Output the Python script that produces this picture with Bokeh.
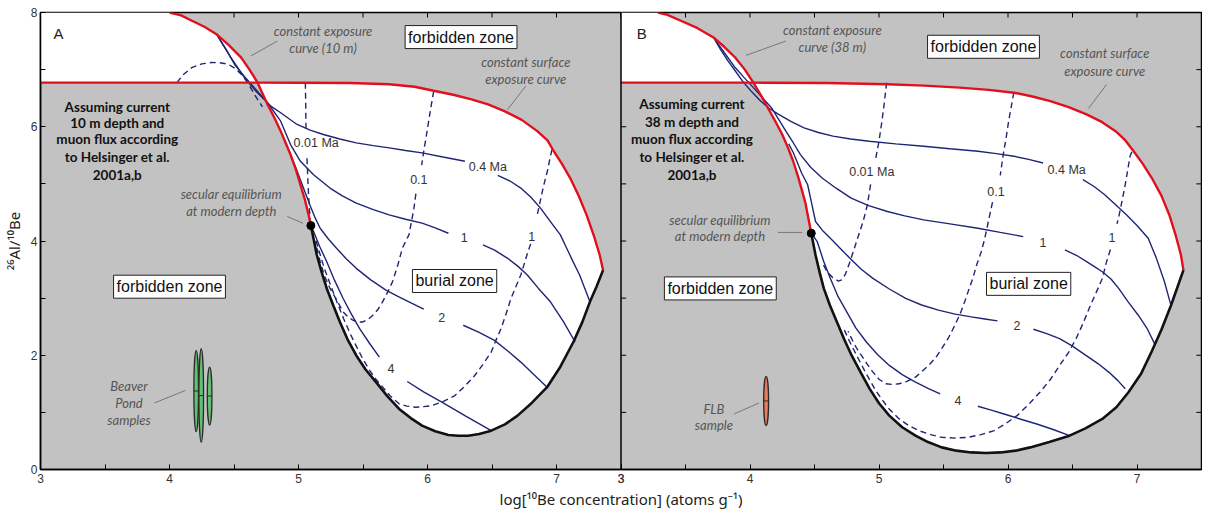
from bokeh.plotting import figure
from bokeh.models import Range1d, FixedTicker, Label, Span
from bokeh.embed import file_html
from bokeh.resources import INLINE

nan = float("nan")

# ---------------- axes ----------------
x_ticks = [3.0, 3.5, 4.0, 4.5, 5.0, 5.5, 6.0, 6.5, 7.0, 7.5]
x_tick_labels = ["3", "", "4", "", "5", "", "6", "", "7", ""]
y_ticks = [0, 1, 2, 3, 4, 5, 6, 7, 8]
y_tick_labels = ["0", "", "2", "", "4", "", "6", "", "8"]
x_title = "log[¹⁰Be concentration] (atoms g⁻¹)"
y_title = "²⁶Al/¹⁰Be"

# ================= PANEL A (10 m) =================
surfA_x = [3.0, 4.0, 4.683, 5.0, 5.4, 5.703, 5.9, 6.048, 6.2, 6.341, 6.47, 6.596, 6.73, 6.851, 6.93, 6.979, 7.04, 7.106, 7.17, 7.233, 7.29, 7.335, 7.361]
surfA_y = [6.772, 6.772, 6.772, 6.77, 6.765, 6.745, 6.70, 6.63, 6.56, 6.48, 6.39, 6.274, 6.12, 5.923, 5.76, 5.571, 5.36, 5.102, 4.80, 4.458, 4.09, 3.755, 3.49]
redA_x = [4.0, 4.09, 4.17, 4.27, 4.364, 4.46, 4.556, 4.62, 4.683, 4.76, 4.815, 4.862, 4.90, 4.938, 4.98, 5.015, 5.05, 5.078, 5.096]
redA_y = [8.0, 7.95, 7.86, 7.75, 7.62, 7.43, 7.21, 7.0, 6.772, 6.39, 6.15, 5.923, 5.72, 5.513, 5.25, 4.985, 4.72, 4.458, 4.27]
blackA_x = [5.096, 5.142, 5.18, 5.219, 5.27, 5.321, 5.38, 5.448, 5.52, 5.601, 5.69, 5.78, 5.87, 5.958, 6.06, 6.162, 6.24, 6.315, 6.40, 6.494, 6.60, 6.698, 6.81, 6.927, 7.03, 7.131, 7.20, 7.259, 7.31, 7.361]
blackA_y = [4.27, 3.755, 3.45, 3.17, 2.87, 2.583, 2.28, 1.997, 1.75, 1.529, 1.28, 1.06, 0.90, 0.768, 0.67, 0.603, 0.59, 0.592, 0.62, 0.68, 0.79, 0.943, 1.17, 1.441, 1.80, 2.232, 2.58, 2.935, 3.20, 3.49]

# burial isochrons (solid)
isoA_04_x = [4.364, 4.44, 4.505, 4.58, 4.658, 4.72, 4.785, 4.862, 4.989, 5.09, 5.193, 5.32, 5.448, 5.58, 5.703, 5.83, 5.958, 6.12, 6.29, nan, 6.545, 6.64, 6.723, 6.80, 6.876, 6.953, 7.03, 7.08, 7.13, 7.18, 7.259]
isoA_04_y = [7.62, 7.35, 7.09, 6.88, 6.685, 6.52, 6.36, 6.245, 6.04, 5.94, 5.864, 5.785, 5.718, 5.67, 5.63, 5.585, 5.542, 5.47, 5.396, nan, 5.15, 5.05, 4.927, 4.77, 4.575, 4.34, 4.107, 3.87, 3.63, 3.40, 2.935]
isoA_1_x = [4.364, 4.47, 4.581, 4.67, 4.76, 4.862, 4.938, 5.015, 5.117, 5.244, 5.34, 5.448, 5.58, 5.703, 5.83, 5.958, 6.06, 6.162, nan, 6.43, 6.52, 6.621, 6.70, 6.774, 6.86, 6.953, 7.055, 7.144]
isoA_1_y = [7.62, 7.23, 6.86, 6.62, 6.42, 6.098, 5.688, 5.395, 5.161, 4.927, 4.79, 4.663, 4.55, 4.458, 4.38, 4.312, 4.23, 4.136, nan, 3.931, 3.84, 3.697, 3.56, 3.404, 3.17, 2.935, 2.584, 2.232]
isoA_2_x = [4.938, 4.99, 5.04, 5.09, 5.13, 5.168, 5.23, 5.295, 5.37, 5.448, 5.56, 5.678, 5.77, 5.856, 5.971, nan, 6.277, 6.40, 6.519, 6.62, 6.723, 6.82, 6.927]
isoA_2_y = [5.513, 5.22, 4.92, 4.62, 4.40, 4.224, 4.04, 3.872, 3.69, 3.521, 3.32, 3.14, 3.03, 2.935, 2.806, nan, 2.525, 2.40, 2.261, 2.08, 1.88, 1.67, 1.441]
isoA_4_x = [5.096, 5.117, 5.165, 5.219, 5.28, 5.346, 5.41, 5.474, 5.55, 5.627, nan, 5.843, 5.97, 6.111, 6.30, 6.494]
isoA_4_y = [4.27, 4.165, 3.90, 3.638, 3.31, 2.994, 2.72, 2.466, 2.21, 1.968, nan, 1.541, 1.36, 1.178, 0.93, 0.68]

# dashed lines
dashA_0_x = [4.058, 4.10, 4.173, 4.25, 4.326, 4.39, 4.454, 4.51, 4.556, 4.61, 4.658, 4.72]
dashA_0_y = [6.772, 6.90, 7.036, 7.10, 7.124, 7.12, 7.095, 7.02, 6.919, 6.76, 6.567, 6.35]
dashA_001_x = [5.053, 5.056, 5.058, nan, 5.066, 5.072, 5.078, 5.085, 5.091]
dashA_001_y = [6.772, 6.4, 5.95, nan, 5.45, 5.1, 4.81, 4.55, 4.34]
dashA_01_x = [6.048, 6.028, 6.009, 5.99, 5.971, 5.955, nan, 5.91, 5.895, 5.876, 5.856, 5.83, 5.805, 5.77, 5.729, 5.69, 5.652, 5.615, 5.576, 5.54, 5.499, 5.46, 5.423, 5.385, 5.346, 5.30, 5.244, 5.20, 5.168, 5.13]
dashA_01_y = [6.62, 6.36, 6.099, 5.83, 5.571, 5.33, nan, 4.83, 4.575, 4.34, 4.107, 3.99, 3.872, 3.58, 3.287, 3.10, 2.935, 2.80, 2.70, 2.63, 2.583, 2.58, 2.613, 2.67, 2.76, 2.95, 3.17, 3.40, 3.638, 3.99]
dashA_1_x = [6.965, 6.953, 6.93, 6.902, 6.876, 6.851, nan, 6.80, 6.774, 6.75, 6.723, 6.685, 6.647, 6.61, 6.57, 6.53, 6.494, 6.43, 6.366, 6.29, 6.213, 6.12, 6.035, 5.97, 5.907, 5.84, 5.78, 5.71, 5.65, 5.60, 5.55, 5.50, 5.45, 5.40, 5.35, 5.30, 5.25, 5.20, 5.16, 5.13]
dashA_1_y = [5.60, 5.483, 5.23, 4.985, 4.72, 4.458, nan, 3.95, 3.78, 3.60, 3.404, 3.20, 2.994, 2.73, 2.466, 2.26, 2.056, 1.84, 1.646, 1.46, 1.295, 1.19, 1.119, 1.10, 1.09, 1.11, 1.15, 1.29, 1.45, 1.58, 1.74, 1.93, 2.15, 2.38, 2.64, 2.92, 3.22, 3.52, 3.82, 4.05]

linelabA_text = ["0.01 Ma", "0.1", "1", "0.4 Ma", "1", "2", "4"]
linelabA_x = [5.137, 5.933, 6.808, 6.468, 6.285, 6.111, 5.716]
linelabA_y = [5.718, 5.073, 4.078, 5.296, 4.06, 2.66, 1.763]

# Beaver Pond samples
beaver_be = [4.207, 4.246, 4.311]
beaver_be_err = [0.018, 0.018, 0.018]
beaver_ratio = [1.374, 1.294, 1.286]
beaver_ratio_err = [0.712, 0.82, 0.507]

# ================= PANEL B (38 m) =================
surfB_x = [3.0, 4.026, 4.6, 5.065, 5.35, 5.626, 5.85, 6.047, 6.19, 6.328, 6.47, 6.609, 6.73, 6.834, 6.91, 6.974, 7.045, 7.115, 7.19, 7.25, 7.30, 7.34, 7.36]
surfB_y = [6.772, 6.772, 6.765, 6.745, 6.72, 6.685, 6.645, 6.596, 6.53, 6.45, 6.345, 6.216, 6.08, 5.923, 5.76, 5.571, 5.35, 5.102, 4.79, 4.46, 4.10, 3.76, 3.49]
redB_x = [3.286, 3.36, 3.464, 3.59, 3.717, 3.80, 3.885, 3.96, 4.026, 4.085, 4.138, 4.195, 4.25, 4.295, 4.335, 4.372, 4.405, 4.43, 4.447, 4.475]
redB_y = [8.0, 7.96, 7.856, 7.73, 7.563, 7.40, 7.212, 7.00, 6.772, 6.55, 6.333, 6.10, 5.864, 5.63, 5.396, 5.13, 4.868, 4.66, 4.458, 4.136]
blackB_x = [4.475, 4.508, 4.54, 4.572, 4.62, 4.674, 4.73, 4.788, 4.86, 4.928, 5.0, 5.08, 5.18, 5.283, 5.38, 5.486, 5.60, 5.715, 5.83, 5.943, 6.06, 6.172, 6.32, 6.477, 6.60, 6.731, 6.84, 6.934, 7.03, 7.112, 7.19, 7.264, 7.36]
blackB_y = [4.136, 3.755, 3.45, 3.17, 2.87, 2.583, 2.28, 1.997, 1.69, 1.412, 1.16, 0.943, 0.74, 0.592, 0.48, 0.387, 0.33, 0.299, 0.29, 0.299, 0.33, 0.387, 0.48, 0.592, 0.72, 0.885, 1.09, 1.353, 1.67, 2.056, 2.45, 2.876, 3.49]

isoB_04_x = [3.717, 3.77, 3.829, 3.885, 3.941, 4.01, 4.082, 4.15, 4.222, 4.32, 4.419, 4.53, 4.643, 4.78, 4.924, 5.13, 5.346, 5.55, 5.767, 5.91, 6.047, 6.16, 6.272, nan, 6.581, 6.67, 6.75, 6.83, 6.918, 7.00, 7.087, 7.15, 7.213, 7.26]
isoB_04_y = [7.563, 7.36, 7.153, 6.98, 6.802, 6.62, 6.45, 6.32, 6.216, 6.09, 5.981, 5.9, 5.835, 5.785, 5.747, 5.70, 5.659, 5.615, 5.571, 5.53, 5.483, 5.43, 5.366, nan, 5.073, 4.95, 4.81, 4.645, 4.458, 4.27, 4.048, 3.70, 3.287, 2.90]
isoB_1_x = [3.717, 3.80, 3.885, 3.955, 4.026, 4.10, 4.166, 4.222, 4.278, 4.335, 4.391, 4.47, 4.559, 4.67, 4.784, 4.92, 5.065, 5.20, 5.346, 5.55, 5.767, 5.94, 6.118, nan, 6.441, 6.53, 6.609, 6.67, 6.731, 6.80, 6.858, 6.93, 7.01, 7.08, 7.137]
isoB_1_y = [7.563, 7.30, 7.036, 6.86, 6.685, 6.50, 6.333, 6.13, 5.923, 5.72, 5.513, 5.29, 5.102, 4.92, 4.751, 4.62, 4.517, 4.44, 4.37, 4.30, 4.224, 4.15, 4.077, nan, 3.843, 3.75, 3.638, 3.55, 3.462, 3.33, 3.17, 2.94, 2.701, 2.46, 2.20]
isoB_2_x = [4.30, 4.335, 4.363, 4.40, 4.447, 4.478, 4.508, 4.56, 4.623, 4.70, 4.775, 4.86, 4.953, 5.08, 5.207, 5.33, 5.461, 5.59, 5.715, 5.82, 5.918, nan, 6.197, 6.30, 6.40, 6.50, 6.604, 6.70, 6.781, 6.85, 6.909]
isoB_2_y = [5.70, 5.55, 5.396, 5.19, 4.985, 4.66, 4.341, 4.19, 4.048, 3.87, 3.697, 3.51, 3.345, 3.16, 2.994, 2.88, 2.789, 2.72, 2.671, 2.635, 2.601, nan, 2.455, 2.38, 2.291, 2.16, 1.997, 1.85, 1.705, 1.56, 1.412]
isoB_4_x = [4.475, 4.50, 4.521, 4.57, 4.623, 4.68, 4.75, 4.82, 4.902, 4.99, 5.08, 5.18, 5.283, 5.38, 5.474, nan, 5.766, 5.87, 5.969, 6.10, 6.223, 6.35, 6.477]
isoB_4_y = [4.136, 4.06, 3.99, 3.65, 3.345, 3.04, 2.759, 2.48, 2.232, 2.01, 1.822, 1.66, 1.529, 1.42, 1.324, nan, 1.107, 1.04, 0.972, 0.88, 0.797, 0.70, 0.592]

dashB_001_x = [5.059, 5.04, 5.023, 5.0, 4.975, nan, 4.935, 4.91, 4.877, 4.85, 4.826, 4.80, 4.775, 4.74, 4.71, 4.686, 4.64, 4.597, 4.56]
dashB_001_y = [6.772, 6.40, 6.099, 5.75, 5.45, nan, 4.99, 4.634, 4.341, 4.16, 3.99, 3.81, 3.638, 3.42, 3.32, 3.298, 3.36, 3.462, 3.62]
dashB_01_x = [6.045, 6.025, 6.005, 5.985, 5.963, 5.94, nan, 5.88, 5.865, 5.85, 5.835, 5.815, 5.791, 5.76, 5.727, 5.695, 5.664, 5.63, 5.588, 5.54, 5.486, 5.44, 5.385, 5.33, 5.283, 5.22, 5.156, 5.10, 5.054, 5.00, 4.953, 4.91, 4.864, 4.83, 4.80, 4.76]
dashB_01_y = [6.60, 6.35, 6.099, 5.80, 5.513, 5.15, nan, 4.68, 4.52, 4.37, 4.20, 4.0, 3.80, 3.60, 3.345, 3.14, 2.935, 2.73, 2.525, 2.31, 2.115, 1.96, 1.822, 1.71, 1.617, 1.545, 1.50, 1.49, 1.50, 1.58, 1.705, 1.84, 1.997, 2.11, 2.232, 2.42]
dashB_1_x = [6.96, 6.946, 6.925, 6.904, 6.883, 6.862, 6.845, nan, 6.794, 6.764, 6.731, 6.68, 6.629, 6.58, 6.528, 6.47, 6.40, 6.33, 6.248, 6.16, 6.07, 5.98, 5.893, 5.79, 5.689, 5.59, 5.486, 5.40, 5.308, 5.23, 5.156, 5.07, 4.978, 4.90, 4.826, 4.77, 4.724]
dashB_1_y = [5.56, 5.483, 5.20, 4.927, 4.69, 4.458, 4.30, nan, 3.85, 3.638, 3.345, 3.08, 2.818, 2.55, 2.291, 2.05, 1.822, 1.58, 1.353, 1.14, 0.943, 0.80, 0.68, 0.61, 0.563, 0.55, 0.563, 0.61, 0.68, 0.77, 0.885, 1.08, 1.37, 1.68, 2.0, 2.25, 2.48]

linelabB_text = ["0.01 Ma", "0.1", "1", "0.4 Ma", "1", "2", "4"]
linelabB_x = [4.944, 5.907, 6.806, 6.455, 6.272, 6.07, 5.613]
linelabB_y = [5.208, 4.868, 4.06, 5.249, 3.978, 2.525, 1.207]

# FLB sample
flb_be = [4.125]
flb_be_err = [0.019]
flb_ratio = [1.2]
flb_ratio_err = [0.43]

# ---------------- styling ----------------
GRAY = "#c2c2c2"
RED = "#e2101e"
NAVY = "#1f2576"
INK = "#111111"
NOTE = "#555555"
SANS = "Liberation Sans"

xmin, xmax = x_ticks[0], x_ticks[-1]
ymin, ymax = y_ticks[0], y_ticks[-1]
shift = xmax - xmin

p = figure(width=1202, height=511,
           x_range=Range1d(xmin, xmax + shift), y_range=Range1d(ymin, ymax),
           output_backend="svg", toolbar_location=None,
           min_border_left=34, min_border_right=1, min_border_top=12, min_border_bottom=40)
p.extra_x_ranges = {"B": Range1d(xmin - shift, xmax)}
p.background_fill_color = GRAY
p.border_fill_color = "white"
p.grid.visible = False
p.outline_line_color = "black"
p.outline_line_width = 1.5

all_x_ticks = list(x_ticks) + [t + shift for t in x_ticks]
x_over = {}
for t, l in zip(x_ticks, x_tick_labels):
    x_over[t] = l
for t, l in zip(x_ticks, x_tick_labels):
    x_over[t + shift] = l
y_over = {t: l for t, l in zip(y_ticks, y_tick_labels)}

for ax in (p.xaxis[0], p.yaxis[0]):
    ax.axis_line_color = "black"
    ax.axis_line_width = 1.5
    ax.major_tick_in = 5
    ax.major_tick_out = 0
    ax.minor_tick_in = 0
    ax.minor_tick_out = 0
    ax.major_tick_line_color = "black"
    ax.major_label_text_font = SANS
    ax.major_label_text_font_size = "12px"
    ax.major_label_text_color = "#333333"
    ax.axis_label_text_font = "Noto Sans"
    ax.axis_label_text_font_size = "15px"
    ax.axis_label_text_font_style = "normal"
    ax.axis_label_text_color = "#222222"
p.xaxis.ticker = FixedTicker(ticks=all_x_ticks)
p.xaxis.major_label_overrides = x_over
p.xaxis.axis_label = x_title
p.xaxis.major_label_standoff = 4
p.xaxis.axis_label_standoff = 3
p.yaxis.ticker = FixedTicker(ticks=y_ticks)
p.yaxis.major_label_overrides = y_over
p.yaxis.axis_label = y_title
p.yaxis.major_label_standoff = 3
p.yaxis.axis_label_standoff = 4

# inward ticks on the top edge, right edge and panel B's left edge
tick_dy = 0.088
tick_dx = 0.04
p.segment(x0=all_x_ticks, x1=all_x_ticks, y0=[ymax] * len(all_x_ticks),
          y1=[ymax - tick_dy] * len(all_x_ticks), line_color="black", line_width=1)
p.segment(x0=[xmax] * len(y_ticks), x1=[xmax - tick_dx] * len(y_ticks), y0=y_ticks, y1=y_ticks,
          line_color="black", line_width=1, x_range_name="B")
p.segment(x0=[xmin] * len(y_ticks), x1=[xmin + tick_dx] * len(y_ticks), y0=y_ticks, y1=y_ticks,
          line_color="black", line_width=1, x_range_name="B")
# divider between panels
p.add_layout(Span(location=xmax, dimension="height", line_color="black", line_width=1.5))


def draw_panel(rn, surf_x, surf_y, red_x, red_y, blk_x, blk_y, solids, dashes,
               lab_text, lab_x, lab_y):
    h = surf_y[0]
    sel = [(x, y) for x, y in zip(red_x, red_y) if y >= h]
    px = [xmin] + [s[0] for s in sel] + [xmin]
    py = [ymax] + [s[1] for s in sel] + [h]
    p.patch(px, py, fill_color="white", line_color=None, x_range_name=rn)
    xi = sel[-1][0]
    s_part = [(x, y) for x, y in zip(surf_x, surf_y) if x >= xi]
    b_part = list(zip(blk_x, blk_y))[::-1]
    r_part = [(x, y) for x, y in zip(red_x, red_y) if y <= h][::-1]
    poly = s_part + b_part + r_part
    p.patch([q[0] for q in poly], [q[1] for q in poly], fill_color="white",
            line_color=None, x_range_name=rn)
    for xs, ys in dashes:
        p.line(xs, ys, line_color=NAVY, line_width=1.4, line_dash="6 4", x_range_name=rn)
    for xs, ys in solids:
        p.line(xs, ys, line_color=NAVY, line_width=1.4, x_range_name=rn)
    p.line(blk_x, blk_y, line_color=INK, line_width=2.6, x_range_name=rn)
    p.line(surf_x, surf_y, line_color=RED, line_width=2.4, x_range_name=rn)
    p.line(red_x, red_y, line_color=RED, line_width=2.4, x_range_name=rn)
    p.scatter([red_x[-1]], [red_y[-1]], size=8, marker="circle", fill_color="black",
              line_color="black", x_range_name=rn)
    for t, x, y in zip(lab_text, lab_x, lab_y):
        p.add_layout(Label(x=x, y=y, text=t, x_range_name=rn, text_align="center",
                           text_baseline="middle", text_font=SANS,
                           text_font_size="12.5px", text_color="#333333"))


draw_panel("default", surfA_x, surfA_y, redA_x, redA_y, blackA_x, blackA_y,
           [(isoA_04_x, isoA_04_y), (isoA_1_x, isoA_1_y), (isoA_2_x, isoA_2_y), (isoA_4_x, isoA_4_y)],
           [(dashA_0_x, dashA_0_y), (dashA_001_x, dashA_001_y), (dashA_01_x, dashA_01_y), (dashA_1_x, dashA_1_y)],
           linelabA_text, linelabA_x, linelabA_y)
draw_panel("B", surfB_x, surfB_y, redB_x, redB_y, blackB_x, blackB_y,
           [(isoB_04_x, isoB_04_y), (isoB_1_x, isoB_1_y), (isoB_2_x, isoB_2_y), (isoB_4_x, isoB_4_y)],
           [(dashB_001_x, dashB_001_y), (dashB_01_x, dashB_01_y), (dashB_1_x, dashB_1_y)],
           linelabB_text, linelabB_x, linelabB_y)


def samples(rn, xs, xe, ys, ye, color):
    p.ellipse(x=xs, y=ys, width=[2 * e for e in xe], height=[2 * e for e in ye],
              fill_color=color, line_color="#2a2a2a", line_width=1.3, x_range_name=rn)
    p.segment(x0=[x - e for x, e in zip(xs, xe)], x1=[x + e for x, e in zip(xs, xe)], y0=ys, y1=ys,
              line_color="#2a2a2a", line_width=1, x_range_name=rn)


samples("default", beaver_be, beaver_be_err, beaver_ratio, beaver_ratio_err, "#62c072")
samples("B", flb_be, flb_be_err, flb_ratio, flb_ratio_err, "#e97a5c")


# ---------------- annotations ----------------
def txt(rn, x, y, t, size="13px", style="normal", color=NOTE, font="Lato", align="center"):
    p.add_layout(Label(x=x, y=y, text=t, x_range_name=rn, text_align=align,
                       text_baseline="middle", text_font=font, text_font_size=size,
                       text_font_style=style, text_color=color))


def box(rn, x, y, t):
    p.add_layout(Label(x=x, y=y, text=t, x_range_name=rn, text_align="center",
                       text_baseline="middle", text_font=SANS, text_font_size="16px",
                       text_color="#111111", background_fill_color="white",
                       border_line_color="#222222", border_line_width=1, padding=3))


def leader(rn, x0, y0, x1, y1):
    p.segment(x0=[x0], y0=[y0], x1=[x1], y1=[y1], line_color="#777777", line_width=1,
              x_range_name=rn)


notes = {
    "default": dict(letter=("A", 3.14, 7.64),
                    exp=(5.19, 7.68, 7.38, "curve (10 m)"), exp_lead=(4.836, 7.50, 4.632, 7.24),
                    fz_top=(6.26, 7.57),
                    surf=(6.762, 7.14, 6.83), surf_lead=(6.762, 6.713, 6.62, 6.30),
                    bold=(3.595, [6.34, 6.07, 5.78, 5.47, 5.16], "10 m depth and"),
                    sec=(4.479, 4.83, 4.53), sec_lead=(4.913, 4.43, 5.035, 4.31),
                    fz_low=(4.0, 3.2), burial=(6.21, 3.3),
                    samp=(3.686, [1.47, 1.165, 0.866], ["Beaver", "Pond", "samples"]),
                    samp_lead=(3.883, 1.165, 4.122, 1.383)),
    "B": dict(letter=("B", 3.16, 7.64),
              exp=(4.638, 7.69, 7.40, "curve (38 m)"), exp_lead=(4.278, 7.50, 3.97, 7.25),
              fz_top=(5.81, 7.40),
              surf=(6.75, 7.29, 6.98), surf_lead=(6.764, 6.74, 6.624, 6.32),
              bold=(3.55, [6.39, 6.09, 5.78, 5.47, 5.16], "38 m depth and"),
              sec=(3.767, 4.37, 4.08), sec_lead=(4.217, 4.15, 4.405, 4.15),
              fz_low=(3.77, 3.17), burial=(6.16, 3.25),
              samp=(3.72, [1.06, 0.78], ["FLB", "sample"]),
              samp_lead=(3.875, 0.97, 4.07, 1.165)),
}

for rn, n in notes.items():
    L, lx, ly = n["letter"]
    txt(rn, lx, ly, L, size="15px", color="#222222", font=SANS)
    ex, ey1, ey2, et = n["exp"]
    txt(rn, ex, ey1, "constant exposure", style="italic")
    txt(rn, ex, ey2, et, style="italic")
    leader(rn, *n["exp_lead"])
    box(rn, *n["fz_top"], "forbidden zone")
    sx, sy1, sy2 = n["surf"]
    txt(rn, sx, sy1, "constant surface", style="italic")
    txt(rn, sx, sy2, "exposure curve", style="italic")
    leader(rn, *n["surf_lead"])
    bx, bys, second = n["bold"]
    for y, t in zip(bys, ["Assuming current", second, "muon flux according",
                          "to Helsinger et al.", "2001a,b"]):
        txt(rn, bx, y, t, size="13.5px", style="bold", color="#111111")
    cx, cy1, cy2 = n["sec"]
    txt(rn, cx, cy1, "secular equilibrium", style="italic")
    txt(rn, cx, cy2, "at modern depth", style="italic")
    leader(rn, *n["sec_lead"])
    box(rn, *n["fz_low"], "forbidden zone")
    box(rn, *n["burial"], "burial zone")
    mx, mys, mlines = n["samp"]
    for y, t in zip(mys, mlines):
        txt(rn, mx, y, t, style="italic")
    leader(rn, *n["samp_lead"])

open("out.html", "w").write(file_html(p, INLINE))
